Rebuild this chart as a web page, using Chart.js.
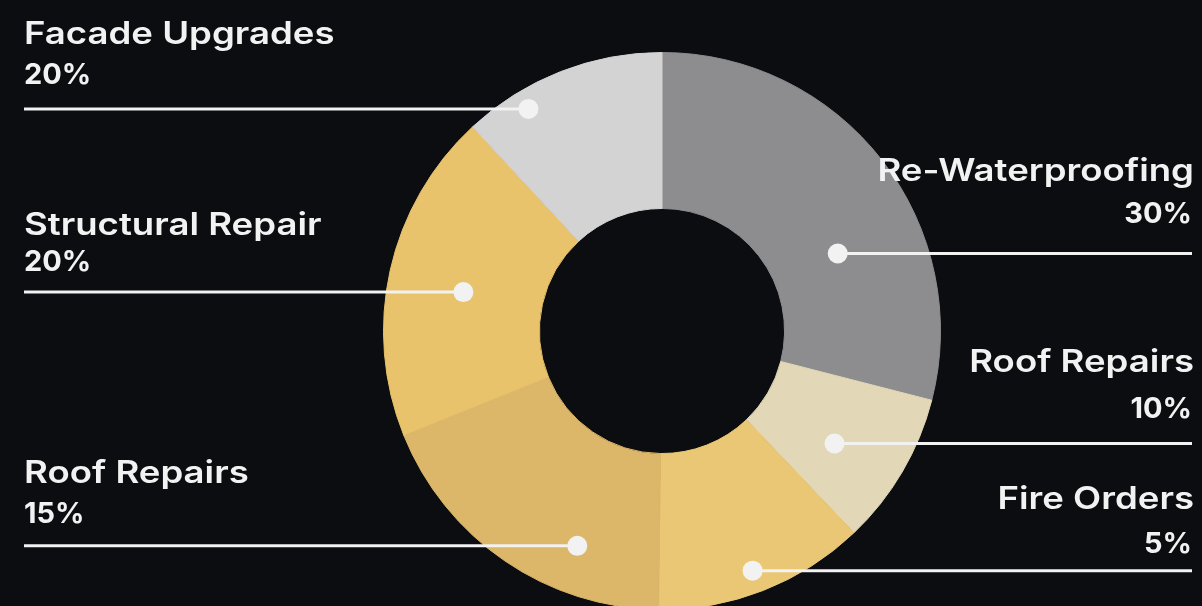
<!DOCTYPE html>
<html>
<head>
<meta charset="utf-8">
<script src="https://cdn.jsdelivr.net/npm/chart.js@4"></script>
<style>
  html, body { margin: 0; padding: 0; background: #0b0d11; overflow: hidden; }
  #wrap { position: relative; width: 1202px; height: 606px; overflow: hidden; }
  canvas { display: block; }
</style>
</head>
<body>
<div id="wrap"><canvas id="c" width="1202" height="620"></canvas></div>
<script>
// ---- data ----
const categories = ['Re-Waterproofing', 'Roof Repairs', 'Fire Orders', 'Roof Repairs', 'Structural Repair', 'Facade Upgrades'];
const sliceShares = [29, 8.9, 12.3, 18.7, 19.2, 11.9];
const percentLabels = ['30%', '10%', '5%', '15%', '20%', '20%'];

// ---- styles ----
const sliceColors = ['#8d8c8f', '#e2d8b7', '#eac775', '#dcb669', '#e8c36b', '#d3d3d3'];
const textColor = '#f2f2f2';
const nameFont = '600 31px Inter';
const pctFont = '700 29px Inter';
const nameStretch = 1.18;

const calloutPlugin = {
  id: 'callouts',
  afterDatasetsDraw(chart, args, opts) {
    const ctx = chart.ctx;
    const meta = chart.getDatasetMeta(0);
    meta.data.forEach((arc, i) => {
      const p = arc.getProps(['x', 'y', 'startAngle', 'endAngle', 'innerRadius', 'outerRadius'], true);
      const a = p.startAngle + opts.angleFrac[i] * (p.endAngle - p.startAngle);
      const r = p.innerRadius + opts.radiusFrac[i] * (p.outerRadius - p.innerRadius);
      const dx = p.x + r * Math.cos(a);
      const dy = p.y + r * Math.sin(a);
      const right = dx > p.x;
      const edge = right ? opts.rightEdge : opts.leftEdge;
      ctx.save();
      ctx.strokeStyle = textColor;
      ctx.lineWidth = 3;
      ctx.beginPath();
      ctx.moveTo(dx, dy);
      ctx.lineTo(edge, dy);
      ctx.stroke();
      ctx.fillStyle = textColor;
      ctx.beginPath();
      ctx.arc(dx, dy, 10, 0, Math.PI * 2);
      ctx.fill();
      ctx.textAlign = right ? 'right' : 'left';
      ctx.textBaseline = 'alphabetic';
      // category name (slightly widened to match the reference's wide geometric face)
      ctx.save();
      ctx.translate(edge + (right ? 2 : 0), dy + opts.nameOffset[i]);
      ctx.scale(nameStretch, 1);
      ctx.font = nameFont;
      ctx.fillText(chart.data.labels[i], 0, 0);
      ctx.restore();
      ctx.font = pctFont;
      ctx.fillText(percentLabels[i], edge, dy + opts.pctOffset[i]);
      ctx.restore();
    });
  }
};

new Chart(document.getElementById('c'), {
  type: 'doughnut',
  data: {
    labels: categories,
    datasets: [{
      data: sliceShares,
      backgroundColor: sliceColors,
      borderColor: sliceColors,
      borderWidth: 1
    }]
  },
  options: {
    responsive: false,
    animation: false,
    cutout: '44%',
    layout: { padding: { left: 383, right: 261, top: 52, bottom: 10 } },
    plugins: {
      legend: { display: false },
      tooltip: { enabled: false },
      callouts: {
        angleFrac: [0.634, 0.584, 0.516, 0.309, 0.478, 0.276],
        radiusFrac: [0.446, 0.535, 0.857, 0.695, 0.512, 0.876],
        nameOffset: [-72.6, -71.6, -61.4, -63, -57, -65],
        pctOffset: [-30, -26, -18, -23, -21, -25],
        leftEdge: 24,
        rightEdge: 1192
      }
    }
  },
  plugins: [calloutPlugin]
});
</script>
</body>
</html>
